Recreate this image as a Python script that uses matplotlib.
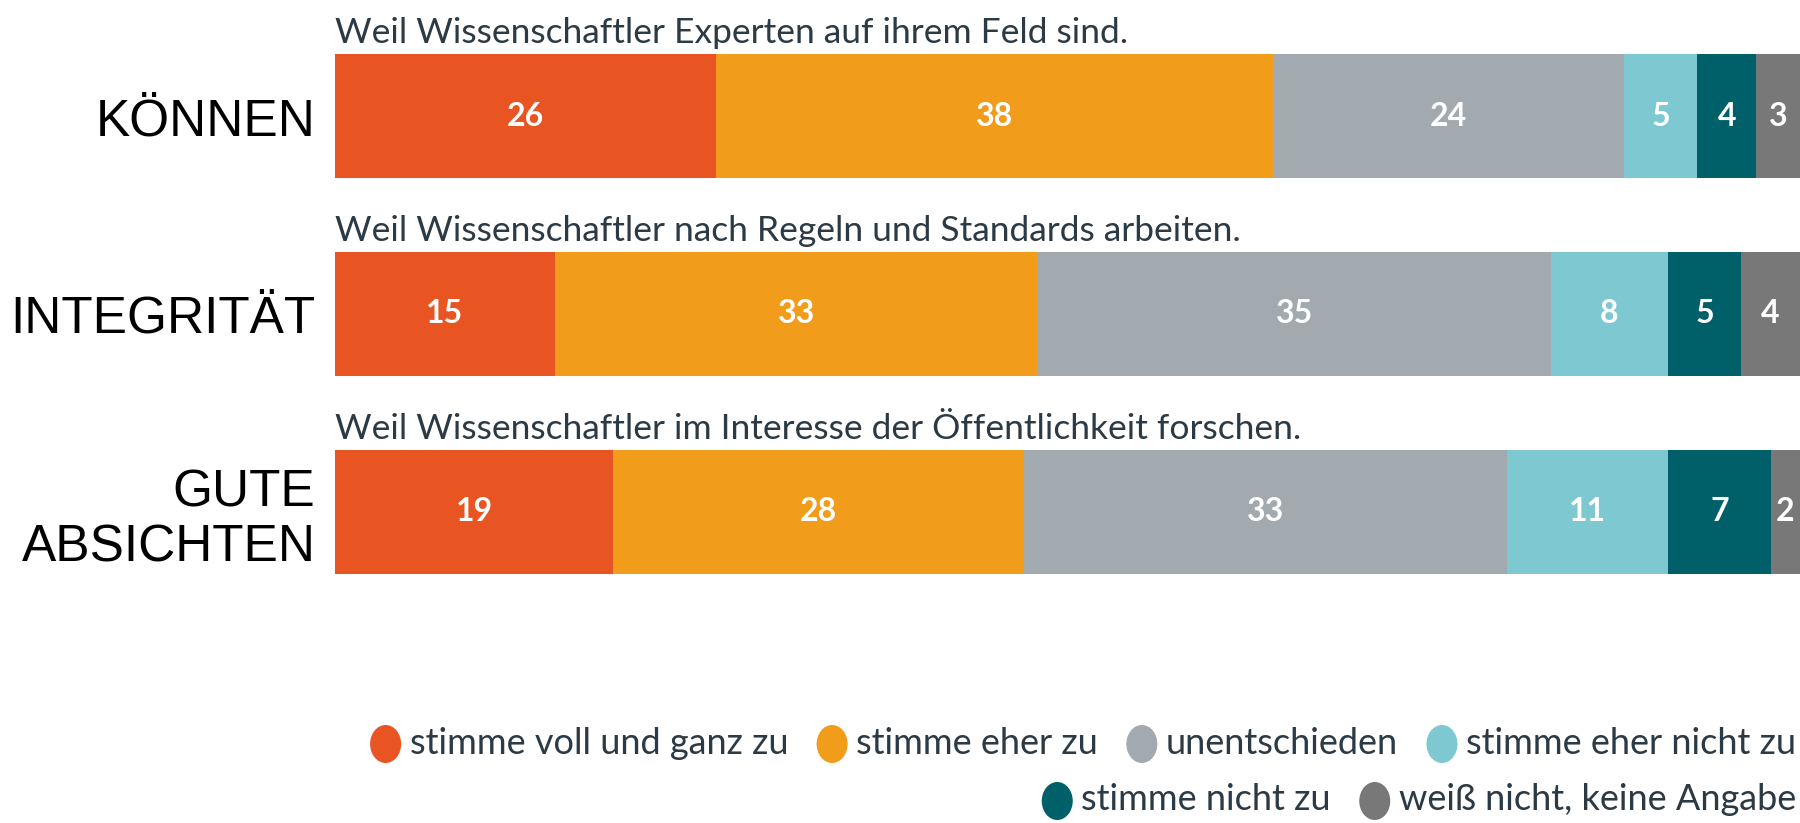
import matplotlib.pyplot as plt
from matplotlib.patches import Ellipse
import numpy as np

# data
categories = ['KÖNNEN', 'INTEGRITÄT', 'GUTE\nABSICHTEN']
subtitles = ['Weil Wissenschaftler Experten auf ihrem Feld sind.',
             'Weil Wissenschaftler nach Regeln und Standards arbeiten.',
             'Weil Wissenschaftler im Interesse der Öffentlichkeit forschen.']
answers = ['stimme voll und ganz zu', 'stimme eher zu', 'unentschieden',
           'stimme eher nicht zu', 'stimme nicht zu', 'weiß nicht, keine Angabe']
voll = [26, 15, 19]
eher = [38, 33, 28]
unent = [24, 35, 33]
eher_nicht = [5, 8, 11]
nicht = [4, 5, 7]
weiss_nicht = [3, 4, 2]
colors = ['#E85523', '#F29C1B', '#A2A9AF', '#7EC9D1', '#00606A', '#787878']

series = [voll, eher, unent, eher_nicht, nicht, weiss_nicht]
text_col = '#2B3A44'
font = 'Lato'

W, H = 1800, 823
fig = plt.figure(figsize=(W / 100, H / 100), dpi=100)
ax = fig.add_axes([335 / W, 0, 1 - 335 / W, 1])

y = np.arange(len(categories))
left = np.zeros(len(categories))
for vals, c in zip(series, colors):
    bars = ax.barh(y, vals, left=left, height=0.626, color=c, linewidth=0)
    for b, v in zip(bars, vals):
        ax.text(b.get_x() + b.get_width() / 2, b.get_y() + b.get_height() / 2, str(v),
                color='white', fontsize=23, fontweight='bold', family=font,
                ha='center', va='center')
    left += vals

for i, s in enumerate(subtitles):
    ax.text(0, i - 0.313 - 0.055, s, fontsize=25.5, color=text_col, family=font,
            ha='left', va='baseline')

ax.set_xlim(0, 100)
ax.set_ylim(3.571, -0.586)
ax.set_yticks(y, categories, fontsize=37, family='Liberation Sans', color='black',
              linespacing=1.17)
ax.tick_params(axis='y', length=0, pad=14)
ax.set_xticks([])
for sp in ax.spines.values():
    sp.set_visible(False)

# legend drawn manually, right aligned in two rows
lax = fig.add_axes([0, 0, 1, 1], zorder=5)
lax.set_xlim(0, W)
lax.set_ylim(H, 0)
lax.axis('off')
fig.canvas.draw()
renderer = fig.canvas.get_renderer()

rows = [answers[:4], answers[4:]]
row_cols = [colors[:4], colors[4:]]
row_y = [743, 800]
for items, cols, ry in zip(rows, row_cols, row_y):
    x = 1796
    for lab, c in reversed(list(zip(items, cols))):
        t = lax.text(x, ry, lab, fontsize=26, color=text_col, family=font,
                     ha='right', va='center')
        w = t.get_window_extent(renderer).width
        x -= w + 8
        lax.add_patch(Ellipse((x - 16, ry + 1), 31, 38, color=c, lw=0))
        x -= 32 + 28

fig.savefig('out.png', dpi=100)
